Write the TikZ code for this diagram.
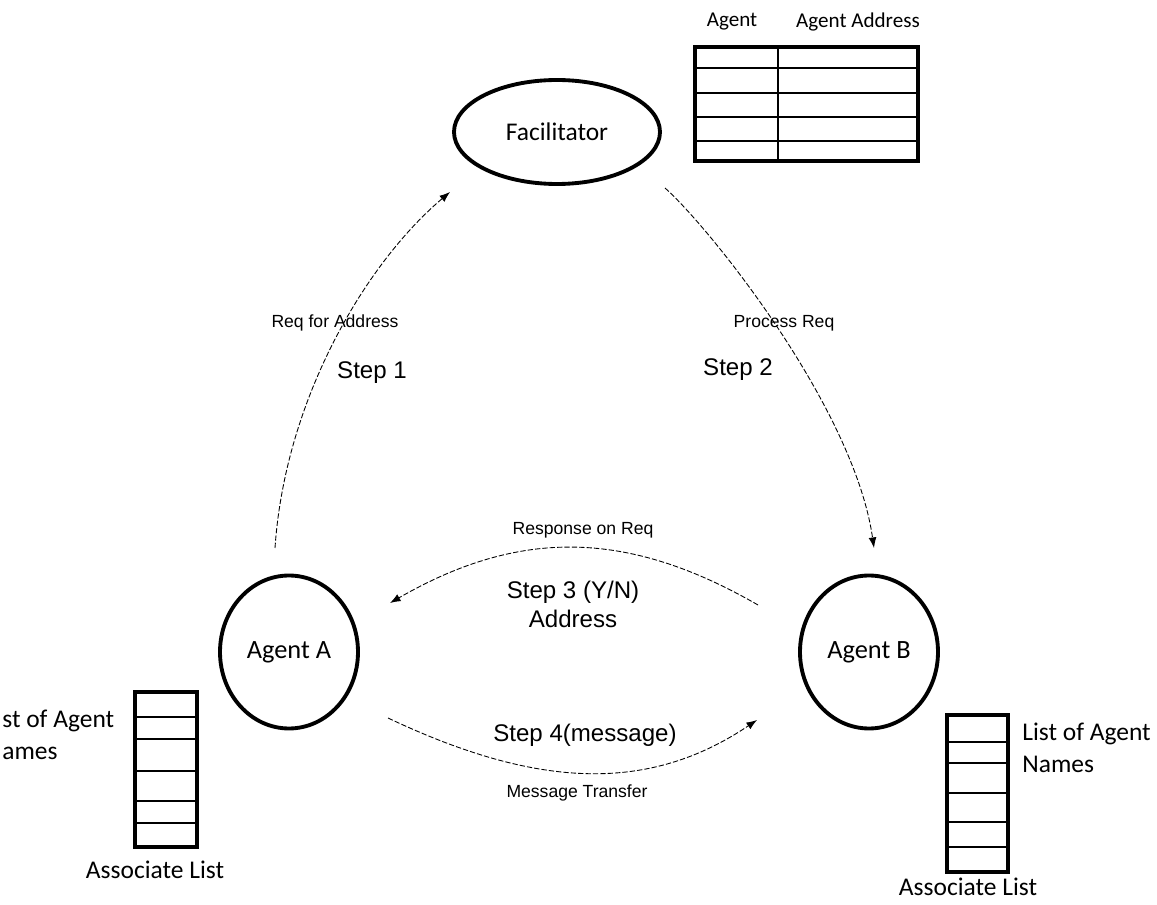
\documentclass[tikz,border=0pt]{standalone}
\usepackage{fontspec}
\setmainfont{Carlito}
\newfontfamily\arialfont{Liberation Sans}
\usetikzlibrary{shapes.geometric,arrows.meta,calc}

\begin{document}
\begin{tikzpicture}[x=0.2mm,y=-0.2mm,
  agent/.style={ellipse,draw,line width=2.2pt,inner sep=0pt,minimum width=27.6mm,minimum height=30.6mm,font=\fontsize{15}{18}\selectfont},
  msg/.style={dash pattern=on 3pt off 1.2pt,line width=0.5pt,-{Latex[length=6pt,width=4.5pt]}},
  steplbl/.style={font=\arialfont\fontsize{13.7}{16.5}\selectfont,align=center},
  smalllbl/.style={font=\arialfont\fontsize{10}{12}\selectfont},
  listlbl/.style={font=\fontsize{14.5}{18}\selectfont,align=left,inner sep=0pt}]
\useasboundingbox (0,0) rectangle (1157,905);

\node [agent,minimum width=41.2mm,minimum height=20.8mm,font=\fontsize{14.5}{17}\selectfont] (fac) at (557,132) {Facilitator};
\node [agent] (agA) at (289,652) {Agent A};
\node [agent] (agB) at (869,652) {Agent B};

% address table of the facilitator
\node [font=\fontsize{12}{14}\selectfont] (hdAgent) at (732,22) {Agent};
\node [font=\fontsize{12}{14}\selectfont] (hdAddr) at (858,22) {Agent Address};
\draw [line width=2pt] (695,47) rectangle (918,161);
\draw [line width=0.8pt] (778,47) -- (778,161);
\foreach \y in {68,93,117,141}
  \draw [line width=0.8pt] (695,\y) -- (918,\y);

% associate lists
\draw [line width=2pt] (135,692) rectangle (197,847);
\foreach \y in {717,739,771,801,823}
  \draw [line width=0.8pt] (135,\y) -- (197,\y);
\draw [line width=2pt] (947,715) rectangle (1008,872);
\foreach \y in {742,763,793,822,847}
  \draw [line width=0.8pt] (947,\y) -- (1008,\y);
\node [listlbl,anchor=west] (namesA) at (2,735) {st of Agent\\ames};
\node [listlbl,anchor=west] (namesB) at (1022,748) {List of Agent\\Names};
\node [listlbl] (assocA) at (155,870) {Associate List};
\node [listlbl] (assocB) at (968,887) {Associate List};

% the four steps
\draw [msg] ($(agA)+(-14,-104)$) .. controls +(10,-148) and +(-85,72) .. ($(fac)+(-107,60)$);
\draw [msg] ($(fac)+(108,56)$) .. controls +(45,40) and +(-20,-140) .. ($(agB)+(5,-104)$);
\draw [msg] ($(agB)+(-111,-47)$) .. controls +(-130,-75) and +(130,-75) .. ($(agA)+(101,-49)$);
\draw [msg] ($(agA)+(99,66)$) .. controls +(152,72) and +(-107,72) .. ($(agB)+(-112,68)$);

\node [smalllbl] (reqLbl) at (335,323) {Req for Address};
\node [steplbl] (stepOne) at (372,373) {Step 1};
\node [smalllbl] (procLbl) at (784,323) {Process Req};
\node [steplbl] (stepTwo) at (738,370) {Step 2};
\node [smalllbl] (respLbl) at (583,530) {Response on Req};
\node [steplbl] (stepThree) at (573,604) {Step 3 (Y/N)\\Address};
\node [steplbl] (stepFour) at (585,735) {Step 4(message)};
\node [smalllbl] (transLbl) at (577,793) {Message Transfer};
\end{tikzpicture}
\end{document}
